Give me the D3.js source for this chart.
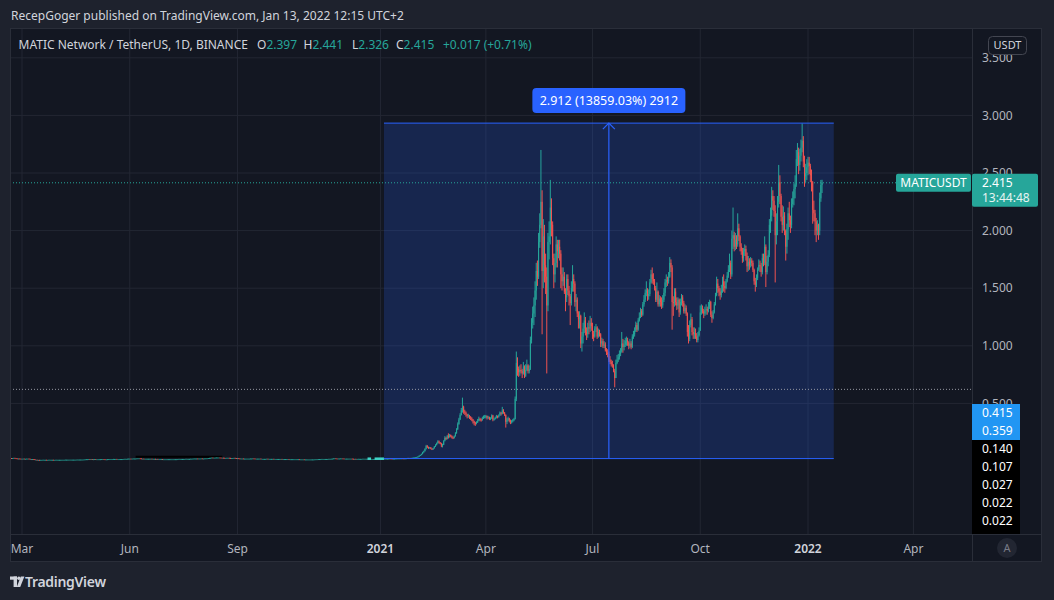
<!DOCTYPE html>
<html>
<head>
<meta charset="utf-8">
<script src="https://cdn.jsdelivr.net/npm/d3@7"></script>
<style>
  html, body { margin: 0; padding: 0; background: #1e222d; }
  svg { display: block; font-family: "Noto Sans", sans-serif; }
</style>
</head>
<body>
<svg id="chart" width="1054" height="600"></svg>
<script>
//////////////////// data: MATIC/USDT, 1D, Binance ////////////////////
// daily closes from 20 Feb 2020 to 31 Dec 2020 (tiny values, wicks not readable)
const start2020 = new Date(Date.UTC(2020, 1, 20));
const close2020 = [
  .026,.025,.026,.027,.025,.023,.021,.022,.021,.020,
  // Mar
  .020,.021,.020,.020,.021,.021,.019,.017,.017,.017,.016,.010,.011,.010,.010,.009,.010,.010,.011,.011,.011,.010,.010,.011,.011,.011,.011,.010,.010,.011,.011,
  // Apr
  .011,.011,.011,.011,.011,.011,.012,.012,.012,.012,.012,.012,.012,.012,.012,.012,.013,.013,.013,.013,.013,.013,.014,.015,.016,.016,.017,.016,.017,.016,
  // May
  .016,.017,.016,.016,.016,.016,.016,.017,.017,.016,.015,.015,.016,.017,.017,.017,.017,.018,.018,.018,.017,.017,.017,.017,.017,.017,.018,.019,.019,.020,.021,
  // Jun
  .021,.020,.021,.022,.022,.022,.023,.024,.024,.023,.021,.021,.020,.020,.020,.020,.020,.020,.020,.019,.019,.019,.018,.018,.017,.017,.017,.017,.016,.016,
  // Jul
  .016,.016,.016,.016,.016,.016,.016,.016,.016,.016,.016,.017,.018,.018,.018,.018,.018,.018,.019,.019,.019,.019,.020,.020,.021,.022,.022,.022,.021,.022,.022,
  // Aug
  .023,.022,.022,.023,.024,.024,.026,.027,.028,.030,.028,.029,.030,.031,.031,.031,.030,.029,.029,.028,.027,.027,.028,.028,.027,.026,.026,.026,.027,.026,.024,
  // Sep
  .025,.023,.021,.022,.022,.020,.021,.021,.021,.021,.021,.022,.022,.023,.022,.021,.021,.021,.021,.021,.019,.019,.019,.019,.019,.020,.019,.019,.019,.019,
  // Oct
  .019,.018,.018,.018,.018,.018,.018,.018,.017,.017,.017,.017,.017,.017,.016,.016,.016,.016,.016,.016,.016,.016,.016,.015,.015,.015,.015,.014,.014,.014,.014,
  // Nov
  .014,.014,.014,.014,.014,.015,.016,.016,.017,.017,.017,.018,.018,.018,.018,.018,.018,.019,.019,.020,.021,.023,.024,.022,.021,.022,.022,.023,.023,.022,
  // Dec
  .021,.021,.021,.021,.021,.021,.021,.020,.019,.019,.018,.018,.019,.019,.019,.019,.020,.020,.020,.020,.020,.019,.018,.018,.018,.018,.018,.018,.017,.018,.018
];

// daily close / high / low from 1 Jan 2021 to 13 Jan 2022 (open = previous close)
const start2021 = new Date(Date.UTC(2021, 0, 1));
const close2021 = [
  .018,.018,.019,.019,.020,.020,.020,.021,.022,.021,.019,.020,.021,.022,.022,.023,.023,.024,.024,.023,.021,.023,.024,.026,.025,.026,.025,.027,.029,.030,.032,
  .034,.038,.045,.052,.060,.075,.085,.105,.130,.120,.112,.118,.108,.100,.110,.125,.140,.155,.170,.160,.150,.135,.140,.175,.200,.190,.215,.205,
  .225,.215,.205,.200,.215,.240,.275,.320,.360,.400,.440,.470,.430,.420,.405,.390,.395,.380,.370,.360,.345,.330,.325,.335,.350,.365,.360,.355,.370,.380,.385,
  .390,.375,.380,.365,.370,.395,.360,.365,.375,.390,.380,.395,.420,.410,.440,.420,.400,.340,.360,.370,.350,.340,.345,.355,.365,.540,.850,.800,.770,.790,
  .780,.760,.820,.740,.790,.830,.780,.800,1.050,1.200,1.280,1.350,1.480,1.650,1.600,1.900,2.050,2.250,1.650,1.950,1.700,1.600,1.350,1.900,1.950,2.200,2.050,1.760,1.620,1.720,1.880,
  1.820,1.860,1.800,1.620,1.560,1.600,1.470,1.420,1.580,1.480,1.430,1.370,1.500,1.580,1.540,1.380,1.400,1.280,1.230,1.260,1.020,1.080,1.150,1.220,1.120,1.100,1.160,1.150,1.200,1.170,
  1.100,1.080,1.150,1.160,1.080,1.120,1.100,1.020,1.040,1.000,1.010,.960,.940,.930,.880,.860,.840,.830,.780,.720,.850,.880,.900,.930,.950,1.020,.990,1.010,1.040,1.050,1.030,
  1.000,1.020,.990,1.080,1.100,1.130,1.180,1.140,1.220,1.250,1.300,1.270,1.360,1.400,1.460,1.480,1.430,1.450,1.550,1.620,1.580,1.560,1.500,1.400,1.470,1.360,1.410,1.380,1.350,1.400,1.460,
  1.550,1.570,1.560,1.600,1.720,1.680,1.380,1.370,1.470,1.380,1.350,1.400,1.290,1.380,1.420,1.370,1.300,1.330,1.280,1.120,1.060,1.180,1.230,1.120,1.100,1.110,1.080,1.050,1.090,1.130,
  1.290,1.330,1.300,1.280,1.310,1.320,1.300,1.340,1.380,1.270,1.240,1.290,1.360,1.440,1.540,1.500,1.470,1.440,1.480,1.560,1.520,1.500,1.560,1.610,1.660,1.720,1.620,1.930,1.960,1.860,1.920,
  1.880,2.020,1.950,1.860,1.820,1.760,1.820,1.840,1.780,1.690,1.730,1.700,1.740,1.720,1.660,1.560,1.530,1.590,1.660,1.700,1.690,1.640,1.760,1.720,1.860,1.640,1.730,1.790,2.050,2.130,
  2.300,2.260,2.170,1.960,2.080,2.250,2.420,2.300,2.120,2.050,2.130,2.000,1.860,2.010,2.150,2.090,2.050,2.230,2.280,2.360,2.400,2.620,2.680,2.570,2.650,2.720,2.780,2.600,2.470,2.500,2.550,
  2.590,2.560,2.480,2.420,2.180,2.150,2.080,2.000,2.050,2.000,2.280,2.397,2.415
];
const high2021 = [
  .019,.019,.020,.020,.021,.021,.021,.022,.023,.023,.022,.021,.022,.023,.023,.024,.024,.025,.025,.025,.024,.024,.025,.027,.027,.027,.027,.028,.031,.032,.034,
  .036,.040,.048,.055,.064,.080,.090,.110,.140,.138,.125,.122,.120,.110,.115,.130,.145,.160,.180,.178,.165,.158,.150,.180,.215,.210,.225,.240,
  .235,.230,.222,.212,.222,.250,.285,.335,.375,.415,.460,.550,.480,.445,.430,.410,.410,.400,.390,.380,.365,.350,.340,.345,.365,.385,.375,.370,.385,.395,.400,
  .400,.395,.392,.385,.380,.405,.400,.375,.385,.400,.395,.405,.430,.425,.470,.450,.425,.405,.375,.385,.375,.360,.355,.365,.375,.560,.950,.900,.820,.830,
  .840,.800,.860,.830,.840,.880,.840,.830,1.080,1.240,1.340,1.420,1.560,1.720,1.740,1.980,2.150,2.700,2.350,2.100,2.050,1.800,1.680,1.980,2.080,2.440,2.280,2.080,1.800,1.800,1.950,
  1.920,1.920,1.920,1.830,1.680,1.680,1.640,1.500,1.620,1.620,1.520,1.450,1.560,1.700,1.620,1.560,1.450,1.420,1.300,1.300,1.270,1.120,1.200,1.290,1.250,1.160,1.200,1.220,1.260,1.240,
  1.200,1.130,1.170,1.190,1.170,1.150,1.140,1.110,1.070,1.060,1.040,1.030,.980,.970,.950,.910,.880,.870,.840,.800,.880,.920,.930,.960,.980,1.120,1.060,1.050,1.070,1.080,1.070,
  1.040,1.060,1.040,1.100,1.130,1.160,1.210,1.200,1.240,1.290,1.330,1.320,1.380,1.440,1.490,1.560,1.500,1.490,1.580,1.660,1.680,1.630,1.580,1.520,1.550,1.480,1.440,1.430,1.420,1.440,1.500,
  1.580,1.620,1.600,1.640,1.770,1.750,1.700,1.430,1.500,1.500,1.420,1.420,1.410,1.410,1.450,1.440,1.390,1.360,1.350,1.290,1.180,1.220,1.280,1.250,1.160,1.160,1.150,1.110,1.120,1.160,
  1.350,1.360,1.350,1.320,1.340,1.360,1.340,1.380,1.400,1.390,1.300,1.310,1.380,1.460,1.600,1.580,1.520,1.500,1.530,1.600,1.620,1.560,1.580,1.640,1.700,1.800,1.740,2.000,2.200,1.990,1.980,
  1.960,2.150,2.060,1.960,1.890,1.850,1.850,1.880,1.870,1.810,1.780,1.760,1.770,1.760,1.740,1.670,1.590,1.620,1.680,1.750,1.740,1.720,1.800,1.800,1.950,1.880,1.780,1.830,2.100,2.200,
  2.380,2.350,2.300,2.220,2.150,2.300,2.570,2.480,2.320,2.220,2.210,2.160,2.010,2.060,2.200,2.250,2.130,2.280,2.340,2.410,2.480,2.700,2.760,2.720,2.710,2.790,2.930,2.820,2.650,2.580,2.620,
  2.640,2.640,2.580,2.530,2.430,2.260,2.180,2.110,2.090,2.060,2.330,2.440,2.441
];
const low2021 = [
  .017,.017,.018,.018,.019,.019,.019,.020,.021,.020,.018,.019,.020,.021,.021,.022,.022,.023,.023,.022,.020,.021,.023,.024,.024,.025,.024,.025,.027,.029,.030,
  .031,.033,.037,.044,.050,.058,.072,.083,.100,.112,.105,.108,.102,.095,.098,.108,.122,.135,.150,.152,.145,.120,.118,.138,.170,.182,.188,.195,
  .205,.205,.195,.190,.195,.212,.238,.270,.315,.355,.395,.420,.410,.400,.385,.370,.375,.365,.355,.345,.325,.310,.305,.318,.330,.345,.345,.342,.350,.365,.370,
  .370,.360,.365,.355,.355,.365,.345,.350,.360,.370,.370,.378,.392,.395,.405,.410,.390,.290,.320,.345,.335,.320,.325,.335,.345,.360,.520,.740,.730,.740,
  .760,.720,.750,.720,.730,.780,.760,.760,.790,1.020,1.150,1.180,1.250,1.400,1.520,1.580,1.850,2.020,1.100,1.500,1.550,1.450,.760,1.300,1.750,1.880,1.950,1.700,1.500,1.550,1.680,
  1.680,1.760,1.740,1.500,1.480,1.520,1.450,1.300,1.380,1.440,1.350,1.180,1.350,1.470,1.470,1.340,1.300,1.250,1.150,1.150,.980,.950,1.020,1.110,1.090,1.050,1.070,1.100,1.120,1.130,
  1.060,1.040,1.070,1.120,1.060,1.070,1.080,.990,.990,.980,.980,.950,.920,.900,.860,.840,.820,.810,.770,.640,.720,.840,.860,.880,.910,.940,.940,.960,.990,1.000,1.000,
  .970,.980,.970,.980,1.060,1.080,1.120,1.120,1.130,1.210,1.240,1.250,1.260,1.340,1.380,1.430,1.390,1.400,1.430,1.540,1.540,1.530,1.480,1.380,1.380,1.340,1.340,1.340,1.320,1.330,1.380,
  1.430,1.510,1.520,1.540,1.590,1.640,1.140,1.260,1.340,1.350,1.310,1.320,1.250,1.270,1.350,1.340,1.280,1.280,1.260,1.080,1.020,1.040,1.160,1.090,1.060,1.060,1.060,1.030,1.030,1.080,
  1.240,1.270,1.280,1.240,1.260,1.270,1.270,1.290,1.320,1.250,1.200,1.230,1.280,1.350,1.430,1.460,1.430,1.400,1.420,1.460,1.470,1.460,1.490,1.550,1.590,1.640,1.580,1.600,1.840,1.820,1.830,
  1.840,1.860,1.910,1.820,1.790,1.720,1.730,1.780,1.740,1.640,1.650,1.660,1.680,1.690,1.640,1.530,1.470,1.510,1.570,1.650,1.640,1.600,1.620,1.690,1.700,1.510,1.620,1.690,1.770,1.980,
  2.080,2.180,2.120,1.550,1.880,1.960,2.200,2.230,2.080,1.980,2.000,1.960,1.740,1.800,1.920,2.030,1.980,2.020,2.200,2.220,2.280,2.380,2.560,2.490,2.520,2.600,2.680,2.550,2.380,2.420,2.440,
  2.480,2.490,2.420,2.340,2.060,2.080,1.960,1.900,1.960,1.920,1.960,2.250,2.326
];

// axis ticks
const timeTicks = [
  new Date(Date.UTC(2020, 2, 1)), new Date(Date.UTC(2020, 5, 1)), new Date(Date.UTC(2020, 8, 1)),
  new Date(Date.UTC(2021, 0, 1)), new Date(Date.UTC(2021, 3, 1)), new Date(Date.UTC(2021, 6, 1)),
  new Date(Date.UTC(2021, 9, 1)), new Date(Date.UTC(2022, 0, 1)), new Date(Date.UTC(2022, 3, 1))
];
const timeLabels = ["Mar", "Jun", "Sep", "2021", "Apr", "Jul", "Oct", "2022", "Apr"];
const priceTicks = [0.5, 1, 1.5, 2, 2.5, 3, 3.5];

// date & price range tool
const rangeStart = new Date(Date.UTC(2021, 0, 4));
const rangeEnd = new Date(Date.UTC(2022, 0, 23));
const rangeLow = 0.021;
const rangeHigh = 2.933;
const rangeText = "2.912 (13859.03%) 2912";

// extra horizontal line and stacked price tags on the axis
const hLinePrice = 0.622;
const lastPrice = 2.415;
const countdown = "13:44:48";
const blueTags = ["0.415", "0.359"];
const blackTags = ["0.140", "0.107", "0.027", "0.022", "0.022"];

//////////////////// layout ////////////////////
const W = 1054, H = 600;
const panel = {left: 10, top: 28, right: 1042, bottom: 562};
const plotRight = 972, plotBottom = 534;

const bg = "#131722", frame = "#2a2e39", gridColor = "#232733";
const up = "#26a69a", down = "#ef5350", textColor = "#b2b5be";

const svg = d3.select("#chart");

const x = d3.scaleTime()
  .domain([new Date(Date.UTC(2020, 2, 1)), new Date(Date.UTC(2022, 0, 1))])
  .range([22, 808]);
const y = d3.scaleLinear().domain([0, 3.5]).range([461, 57.8]);

// build candles (open = previous close)
const candles = [];
let prev = close2020[0];
close2020.forEach((c, i) => {
  candles.push({date: d3.utcDay.offset(start2020, i), o: prev, c: c, h: Math.max(prev, c), l: Math.min(prev, c)});
  prev = c;
});
close2021.forEach((c, i) => {
  candles.push({date: d3.utcDay.offset(start2021, i), o: prev, c: c, h: high2021[i], l: low2021[i]});
  prev = c;
});

// background and panel
svg.append("rect").attr("width", W).attr("height", H).attr("fill", "#1e222d");
svg.append("rect")
  .attr("x", panel.left).attr("y", panel.top)
  .attr("width", panel.right - panel.left).attr("height", panel.bottom - panel.top)
  .attr("fill", bg);

svg.append("defs").append("clipPath").attr("id", "plotClip")
  .append("rect").attr("x", panel.left).attr("y", panel.top)
  .attr("width", plotRight - panel.left).attr("height", plotBottom - panel.top);

const plot = svg.append("g").attr("clip-path", "url(#plotClip)");

// grid
plot.selectAll(".vgrid").data(timeTicks).enter().append("line")
  .attr("x1", d => x(d)).attr("x2", d => x(d))
  .attr("y1", panel.top).attr("y2", plotBottom)
  .attr("stroke", gridColor).attr("stroke-width", 1);
plot.selectAll(".hgrid").data(priceTicks).enter().append("line")
  .attr("x1", panel.left).attr("x2", plotRight)
  .attr("y1", d => y(d)).attr("y2", d => y(d))
  .attr("stroke", gridColor).attr("stroke-width", 1);

// range tool fill
const rx0 = x(rangeStart), rx1 = x(rangeEnd);
const ry0 = y(rangeHigh), ry1 = y(rangeLow);
plot.append("rect")
  .attr("x", rx0).attr("y", ry0).attr("width", rx1 - rx0).attr("height", ry1 - ry0)
  .attr("fill", "rgba(41,98,255,0.2)");

// dotted lines
plot.append("line")
  .attr("x1", panel.left).attr("x2", plotRight)
  .attr("y1", y(hLinePrice)).attr("y2", y(hLinePrice))
  .attr("stroke", "#9598a1").attr("stroke-width", 1).attr("stroke-dasharray", "1,2");
plot.append("line")
  .attr("x1", panel.left).attr("x2", plotRight)
  .attr("y1", y(lastPrice)).attr("y2", y(lastPrice))
  .attr("stroke", up).attr("stroke-width", 1).attr("stroke-dasharray", "1,2");

// user drawing in 2020
plot.append("line")
  .attr("x1", x(new Date(Date.UTC(2020, 5, 6)))).attr("x2", x(new Date(Date.UTC(2020, 7, 19))))
  .attr("y1", y(0.037)).attr("y2", y(0.037))
  .attr("stroke", "#000").attr("stroke-width", 2);

// candles
const candleG = plot.append("g");
candleG.selectAll(".wick").data(candles).enter().append("line")
  .attr("x1", d => x(d.date)).attr("x2", d => x(d.date))
  .attr("y1", d => y(Math.max(d.h, d.o, d.c))).attr("y2", d => y(Math.min(d.l, d.o, d.c)))
  .attr("stroke", d => d.c >= d.o ? up : down).attr("stroke-width", 1);
candleG.selectAll(".body").data(candles).enter().append("rect")
  .attr("x", d => x(d.date) - 0.5)
  .attr("y", d => y(Math.max(d.o, d.c)))
  .attr("width", 1)
  .attr("height", d => Math.max(1, Math.abs(y(d.o) - y(d.c))))
  .attr("fill", d => d.c >= d.o ? up : down);

// highlighted start of the range tool
plot.append("line")
  .attr("x1", x(new Date(Date.UTC(2020, 11, 21)))).attr("x2", x(new Date(Date.UTC(2020, 11, 24))))
  .attr("y1", y(0.02)).attr("y2", y(0.02))
  .attr("stroke", "#3fd4c8").attr("stroke-width", 2.5);
plot.append("line")
  .attr("x1", x(new Date(Date.UTC(2020, 11, 27)))).attr("x2", rx0)
  .attr("y1", y(0.02)).attr("y2", y(0.02))
  .attr("stroke", "#3fd4c8").attr("stroke-width", 2.5);

// range tool edges and arrow
const rangeBlue = "#2962ff";
plot.append("line").attr("x1", rx0).attr("x2", rx1).attr("y1", ry0).attr("y2", ry0)
  .attr("stroke", rangeBlue).attr("stroke-width", 1);
plot.append("line").attr("x1", rx0).attr("x2", rx1).attr("y1", ry1).attr("y2", ry1)
  .attr("stroke", rangeBlue).attr("stroke-width", 1);
const mid = (rx0 + rx1) / 2;
plot.append("line").attr("x1", mid).attr("x2", mid).attr("y1", ry1).attr("y2", ry0)
  .attr("stroke", rangeBlue).attr("stroke-width", 1.2);
plot.append("path")
  .attr("d", `M${mid - 6},${ry0 + 6}L${mid},${ry0}L${mid + 6},${ry0 + 6}`)
  .attr("fill", "none").attr("stroke", rangeBlue).attr("stroke-width", 1.2);

const lbl = svg.append("g");
lbl.append("rect")
  .attr("x", mid - 76.5).attr("y", ry0 - 35).attr("width", 153).attr("height", 25).attr("rx", 4)
  .attr("fill", rangeBlue);
lbl.append("text")
  .attr("x", mid).attr("y", ry0 - 22.5).attr("dy", "0.35em")
  .attr("text-anchor", "middle").attr("fill", "#fff").attr("font-size", 12.5)
  .text(rangeText);

// panel frame and axis separators
svg.append("rect")
  .attr("x", panel.left + 0.5).attr("y", panel.top + 0.5)
  .attr("width", panel.right - panel.left - 1).attr("height", panel.bottom - panel.top - 1)
  .attr("fill", "none").attr("stroke", frame);
svg.append("line").attr("x1", plotRight + 0.5).attr("x2", plotRight + 0.5)
  .attr("y1", panel.top).attr("y2", panel.bottom).attr("stroke", frame);
svg.append("line").attr("x1", panel.left).attr("x2", panel.right)
  .attr("y1", plotBottom + 0.5).attr("y2", plotBottom + 0.5).attr("stroke", frame);

// time axis labels
svg.selectAll(".tlabel").data(timeTicks).enter().append("text")
  .attr("x", d => x(d)).attr("y", 553)
  .attr("text-anchor", "middle").attr("font-size", 12)
  .attr("font-weight", (d, i) => /^\d+$/.test(timeLabels[i]) ? 600 : 400)
  .attr("fill", (d, i) => /^\d+$/.test(timeLabels[i]) ? "#d1d4dc" : textColor)
  .text((d, i) => timeLabels[i]);

// price axis labels (partly hidden under the boxes, as on the original)
svg.selectAll(".plabel").data(priceTicks).enter().append("text")
  .attr("x", 982).attr("y", d => y(d)).attr("dy", "0.35em")
  .attr("font-size", 12).attr("fill", textColor)
  .text(d => d3.format(".3f")(d));

// USDT unit box
svg.append("rect").attr("x", 988.5).attr("y", 36.5).attr("width", 38).attr("height", 18).attr("rx", 4)
  .attr("fill", bg).attr("stroke", "#434651");
svg.append("text").attr("x", 1007.5).attr("y", 45.5).attr("dy", "0.35em")
  .attr("text-anchor", "middle").attr("font-size", 11).attr("fill", "#d1d4dc").text("USDT");

// symbol label and last price box
const ly = y(lastPrice);
svg.append("rect").attr("x", 896).attr("y", ly - 9).attr("width", 75).attr("height", 18).attr("rx", 2)
  .attr("fill", up);
svg.append("text").attr("x", 933.5).attr("y", ly).attr("dy", "0.35em")
  .attr("text-anchor", "middle").attr("font-size", 12).attr("fill", "#fff").text("MATICUSDT");
svg.append("rect").attr("x", 972).attr("y", ly - 9).attr("width", 66).attr("height", 33).attr("rx", 2)
  .attr("fill", up);
svg.append("text").attr("x", 982).attr("y", ly).attr("dy", "0.35em")
  .attr("font-size", 12).attr("fill", "#fff").text(d3.format(".3f")(lastPrice));
svg.append("text").attr("x", 982).attr("y", ly + 15).attr("dy", "0.35em")
  .attr("font-size", 12).attr("fill", "#e6f4f2").text(countdown);

// stacked price tags
const tagTop = 404, tagH = 18;
svg.append("rect").attr("x", 972).attr("y", tagTop).attr("width", 48).attr("height", tagH * blueTags.length)
  .attr("fill", "#2196f3");
svg.append("rect").attr("x", 972).attr("y", tagTop + tagH * blueTags.length)
  .attr("width", 48).attr("height", tagH * blackTags.length + 4).attr("fill", "#000");
svg.selectAll(".btag").data(blueTags).enter().append("text")
  .attr("x", 982).attr("y", (d, i) => tagTop + 9 + i * tagH).attr("dy", "0.35em")
  .attr("font-size", 12).attr("fill", "#fff").text(d => d);
svg.selectAll(".ktag").data(blackTags).enter().append("text")
  .attr("x", 982).attr("y", (d, i) => tagTop + tagH * blueTags.length + 9 + i * tagH).attr("dy", "0.35em")
  .attr("font-size", 12).attr("fill", "#fff").text(d => d);

// auto-scale button
svg.append("circle").attr("cx", 1007).attr("cy", 548).attr("r", 10).attr("fill", "#222632");
svg.append("text").attr("x", 1007).attr("y", 548).attr("dy", "0.35em")
  .attr("text-anchor", "middle").attr("font-size", 11).attr("fill", "#787b86").text("A");

// header
svg.append("text").attr("x", 11).attr("y", 20).attr("font-size", 12).attr("fill", "#d1d4dc")
  .text("RecepGoger published on TradingView.com, Jan 13, 2022 12:15 UTC+2");

// legend
const legend = svg.append("g").attr("font-size", 12).attr("fill", "#d1d4dc");
const legendY = 48.5;
legend.append("text").attr("x", 18.5).attr("y", legendY).text("MATIC Network / TetherUS, 1D, BINANCE");
const ohlc = [["O", "2.397", 257], ["H", "2.441", 303.5], ["L", "2.326", 352], ["C", "2.415", 396]];
ohlc.forEach(([k, v, px]) => {
  const t = legend.append("text").attr("x", px).attr("y", legendY);
  t.append("tspan").text(k);
  t.append("tspan").attr("fill", up).text(v);
});
legend.append("text").attr("x", 443).attr("y", legendY).attr("fill", up).text("+0.017 (+0.71%)");

// TradingView logo
const logo = svg.append("g").attr("fill", "#d1d4dc");
logo.append("rect").attr("x", 10).attr("y", 576.5).attr("width", 7).attr("height", 3.2);
logo.append("rect").attr("x", 13.6).attr("y", 576.5).attr("width", 3.4).attr("height", 10.5);
logo.append("circle").attr("cx", 18.9).attr("cy", 578.2).attr("r", 1.7);
logo.append("path").attr("d", "M20.8,576.5L24.4,576.5L20.2,587L16.8,587Z");
svg.append("text").attr("x", 25).attr("y", 586.5).attr("font-size", 14).attr("font-weight", 600)
  .attr("fill", "#d1d4dc").attr("letter-spacing", "-0.3").text("TradingView");
</script>
</body>
</html>
